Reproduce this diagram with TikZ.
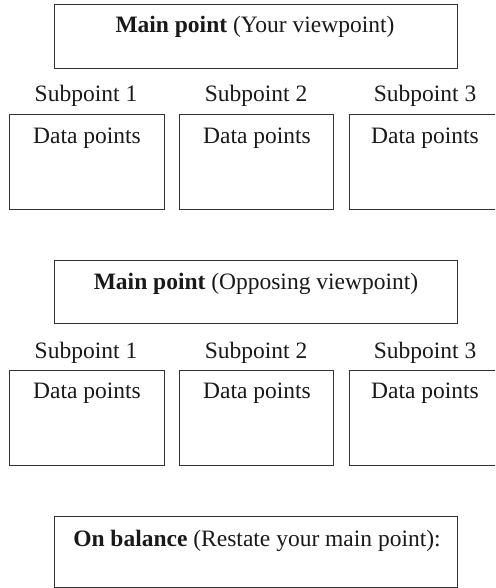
\documentclass[tikz,border=0pt]{standalone}
\usepackage{fontspec}
\setmainfont{Liberation Serif}
\begin{document}
\begin{tikzpicture}[x=1pt,y=-1pt,
  box/.style={draw=black!80,line width=0.9pt,fill=none},
  txt/.style={anchor=base,inner sep=0pt,font=\fontsize{23.5}{27}\selectfont,text=black!90}]
\useasboundingbox (0,0) rectangle (495,588);
\clip (0,0) rectangle (495,588);
% section 1: own viewpoint
\draw[box] (54,4) rectangle (457,68);
\node[txt] (m1) at (255,33) {\textbf{Main point} (Your viewpoint)};
\node[txt] (s11) at (86,102) {Subpoint 1};
\node[txt] (s12) at (256,102) {Subpoint 2};
\node[txt] (s13) at (425,102) {Subpoint 3};
\draw[box] (9,114) rectangle (164,209);
\draw[box] (179,114) rectangle (333,209);
\draw[box] (349,114) rectangle (501,209);
\node[txt] (d11) at (87,143) {Data points};
\node[txt] (d12) at (257,143) {Data points};
\node[txt] (d13) at (425,143) {Data points};
% section 2: opposing viewpoint
\draw[box] (54,260) rectangle (457,323);
\node[txt] (m2) at (256,289) {\textbf{Main point} (Opposing viewpoint)};
\node[txt] (s21) at (86,358) {Subpoint 1};
\node[txt] (s22) at (256,358) {Subpoint 2};
\node[txt] (s23) at (425,358) {Subpoint 3};
\draw[box] (9,370) rectangle (164,465);
\draw[box] (179,370) rectangle (333,465);
\draw[box] (349,370) rectangle (501,465);
\node[txt] (d21) at (87,398) {Data points};
\node[txt] (d22) at (257,398) {Data points};
\node[txt] (d23) at (425,398) {Data points};
% conclusion
\draw[box] (54,516) rectangle (457,587);
\node[txt] (c) at (257,546) {\textbf{On balance} (Restate your main point):};
\end{tikzpicture}
\end{document}
